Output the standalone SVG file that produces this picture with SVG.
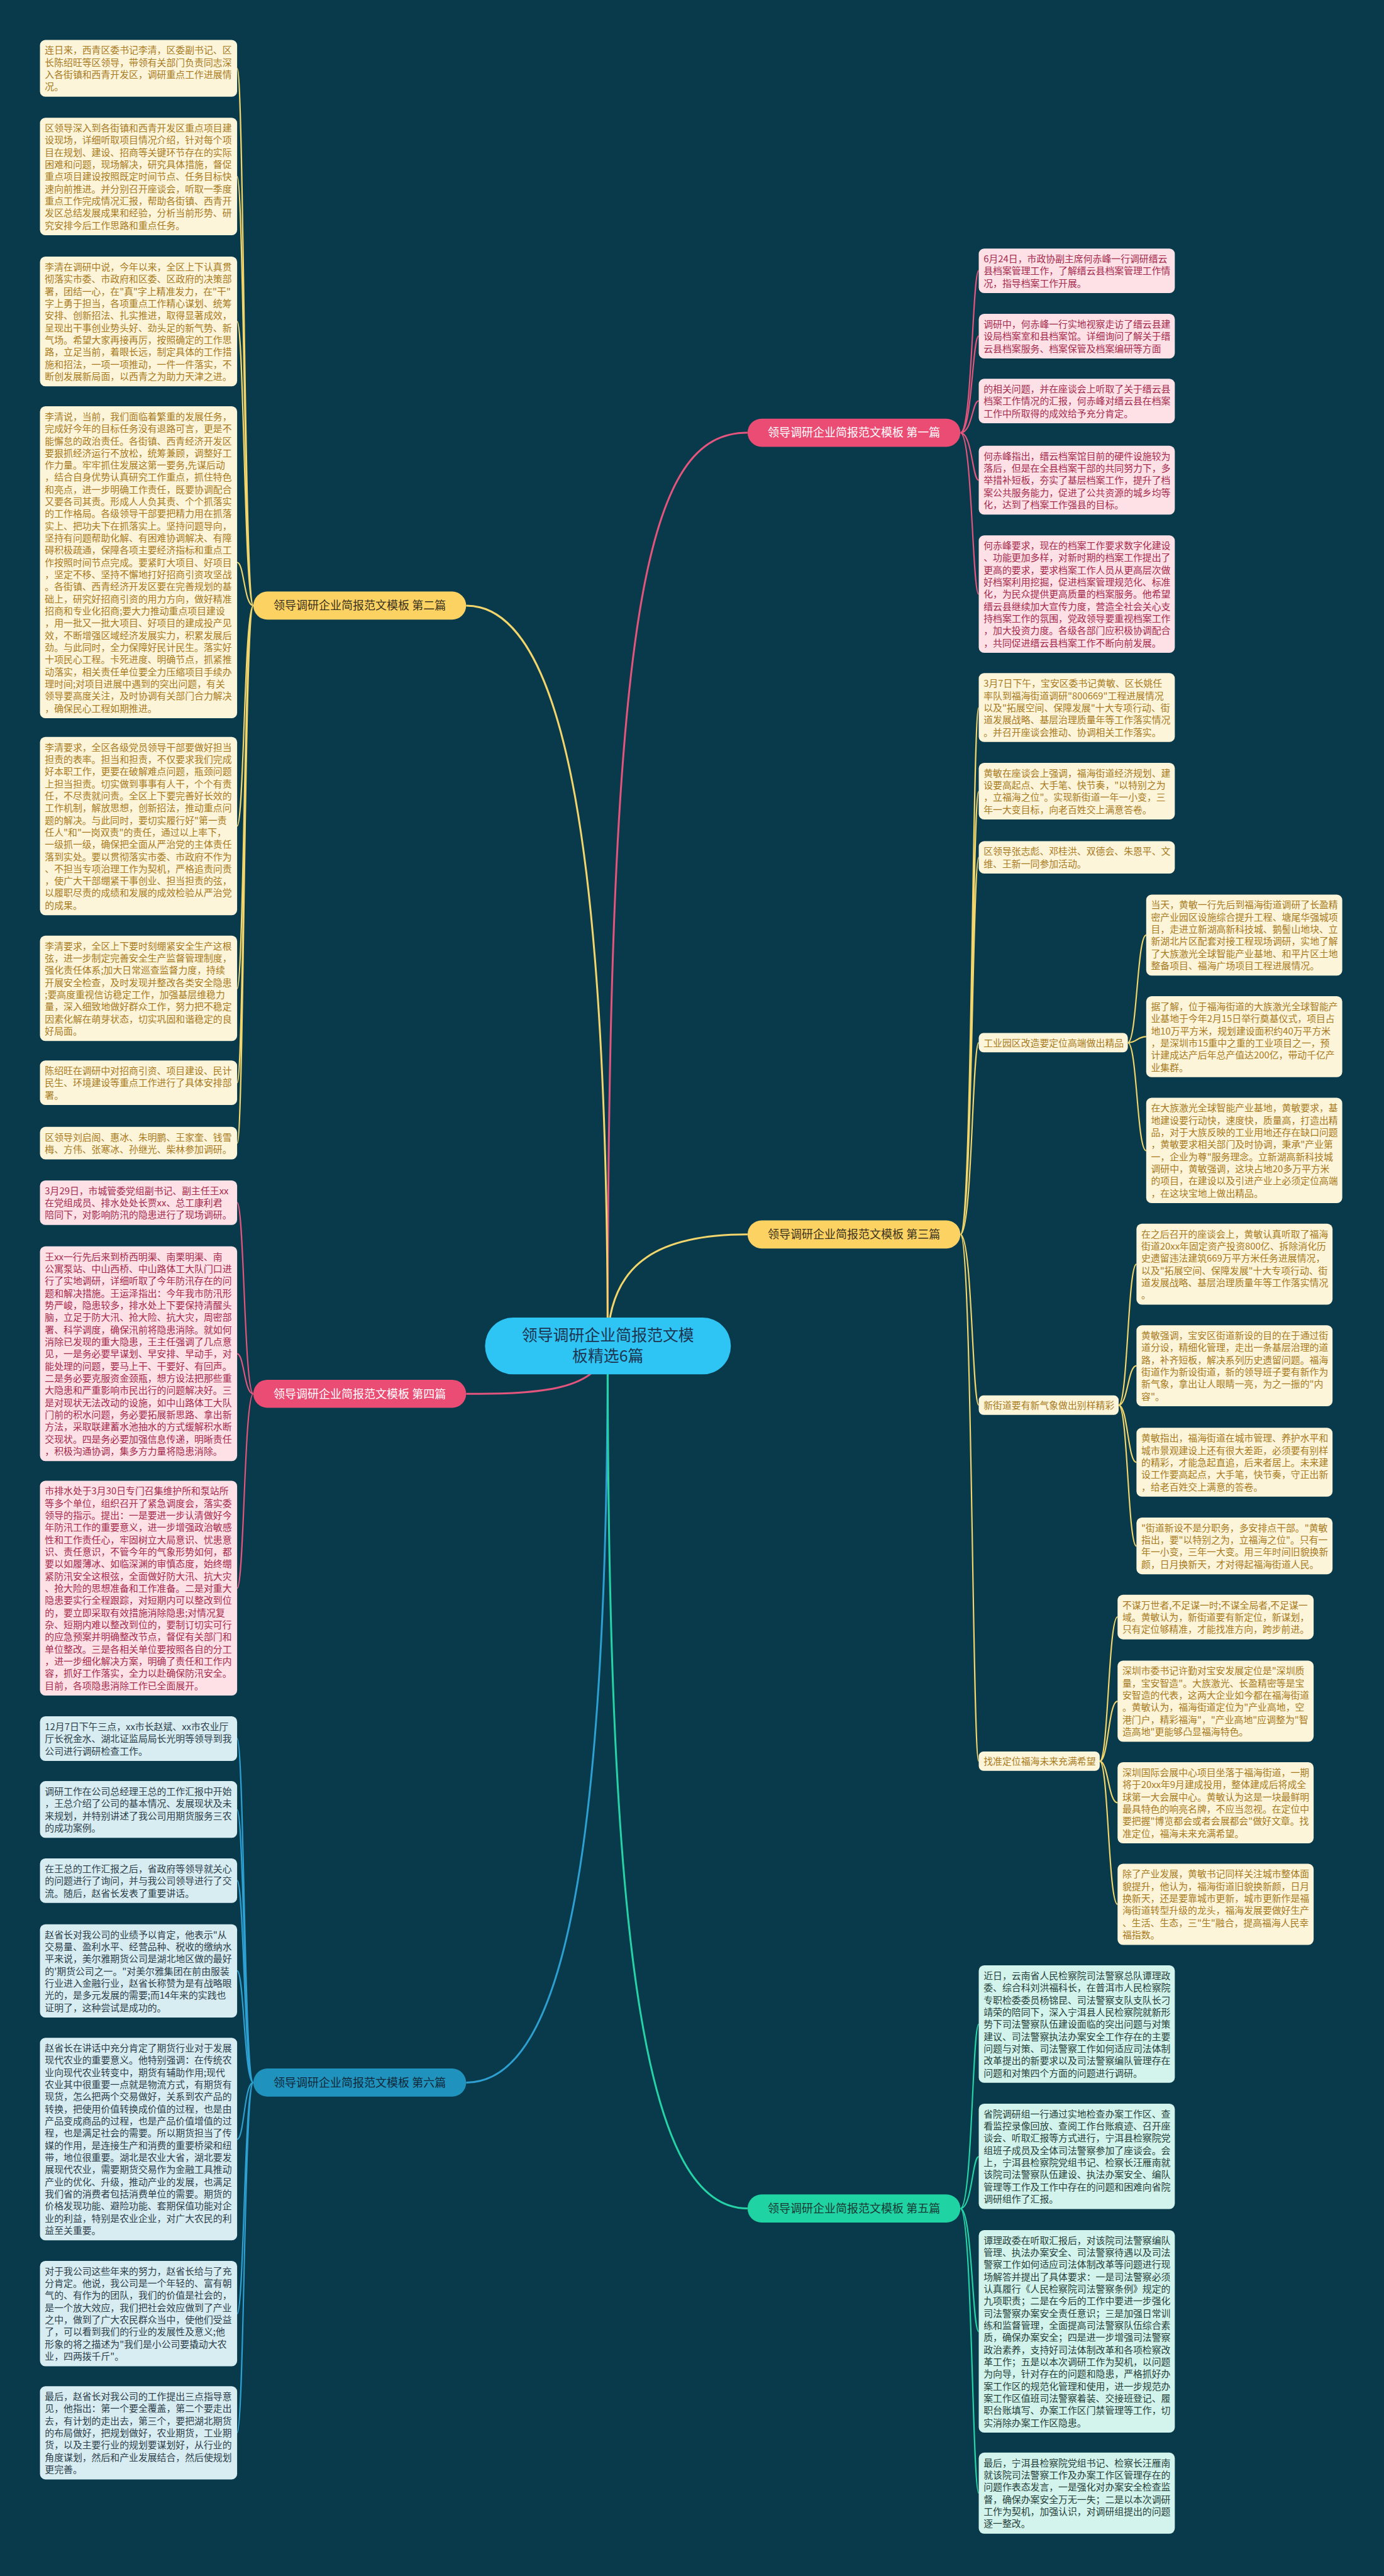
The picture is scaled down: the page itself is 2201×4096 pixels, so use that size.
<svg xmlns="http://www.w3.org/2000/svg" width="2201" height="4096" viewBox="0 0 2201 4096">
<style>
text{font-family:"Noto Sans CJK SC","Noto Sans",sans-serif;font-size:17.3px}
.ty{fill:#a87a1e}.tp{fill:#a52a4c}.tb{fill:#2c3e4a}.tg{fill:#25403a}
.by{fill:#fdf5da}.bp{fill:#fde1e7}.bb{fill:#d8edf2}.bg{fill:#d3f4ec}
#conn path{fill:none;stroke-width:2.5}
#conn .m{stroke-width:3.5}
.cy{stroke:#f2d56b}.cp{stroke:#e4557d}.cb{stroke:#2d9fd0}.cg{stroke:#26d3a6}
.nt{font-size:21px;text-anchor:middle}
</style>
<rect width="2201" height="4096" fill="#083a4b"/>
<g transform="scale(0.859)">
<g id="conn">
<path class="cp m" d="M1125 2491C1125 1100 1200 801 1384 801"/>
<path class="cy m" d="M1125 2491C1125 1600 1050 1121 863 1121"/>
<path class="cy m" d="M1125 2491C1125 2330 1230 2285 1384 2285"/>
<path class="cp m" d="M1125 2491C1110 2575 1000 2580 863 2580"/>
<path class="cb m" d="M1125 2491C1125 3400 1050 3855 863 3855"/>
<path class="cg m" d="M1125 2491C1125 3650 1200 4088 1384 4088"/>
<path class="cp" d="M1778 801C1800 801 1800 501 1812 501M1778 801C1800 801 1800 622 1812 622M1778 801C1800 801 1800 742 1812 742M1778 801C1800 801 1800 889 1812 889M1778 801C1800 801 1800 1100 1812 1100"/>
<path class="cy" d="M469 1121C452 1121 452 127 439 127M469 1121C452 1121 452 327 439 327M469 1121C452 1121 452 595 439 595M469 1121C452 1121 452 1041 439 1041M469 1121C452 1121 452 1529 439 1529M469 1121C452 1121 452 1830 439 1830M469 1121C452 1121 452 2004 439 2004M469 1121C452 1121 452 2116 439 2116"/>
<path class="cy" d="M1778 2285C1800 2285 1800 1310 1812 1310M1778 2285C1800 2285 1800 1465 1812 1465M1778 2285C1800 2285 1800 1587 1812 1587M1778 2285C1800 2285 1800 1930 1812 1930M1778 2285C1800 2285 1800 2601 1812 2601M1778 2285C1800 2285 1800 3260 1812 3260"/>
<path class="cy" d="M2088 1930C2105 1930 2105 1731 2122 1731M2088 1930C2105 1930 2105 1919 2122 1919M2088 1930C2105 1930 2105 2130 2122 2130"/>
<path class="cy" d="M2071 2601C2088 2601 2088 2340 2104 2340M2071 2601C2088 2601 2088 2528 2104 2528M2071 2601C2088 2601 2088 2707 2104 2707M2071 2601C2088 2601 2088 2862 2104 2862"/>
<path class="cy" d="M2036 3260C2052 3260 2052 2993 2069 2993M2036 3260C2052 3260 2052 3149 2069 3149M2036 3260C2052 3260 2052 3337 2069 3337M2036 3260C2052 3260 2052 3525 2069 3525"/>
<path class="cp" d="M469 2580C452 2580 452 2226 439 2226M469 2580C452 2580 452 2506 439 2506M469 2580C452 2580 452 2940 439 2940"/>
<path class="cb" d="M469 3855C452 3855 452 3218 439 3218M469 3855C452 3855 452 3350 439 3350M469 3855C452 3855 452 3481 439 3481M469 3855C452 3855 452 3648 439 3648M469 3855C452 3855 452 3960 439 3960M469 3855C452 3855 452 4283 439 4283M469 3855C452 3855 452 4503 439 4503"/>
<path class="cg" d="M1778 4088C1800 4088 1800 3747 1812 3747M1778 4088C1800 4088 1800 3992 1812 3992M1778 4088C1800 4088 1800 4316 1812 4316M1778 4088C1800 4088 1800 4615 1812 4615"/>
</g>

<g id="center"><rect x="898" y="2439" width="455" height="105" rx="52" fill="#2ec5f5"/><text x="1125.5" y="2482" text-anchor="middle" style="font-size:29px" fill="#1d3550"><tspan x="1125.5">领导调研企业简报范文模</tspan><tspan x="1125.5" dy="38">板精选6篇</tspan></text></g>

<g id="b1"><rect x="1384" y="775" width="394" height="52" rx="26" fill="#ea4c74"/><text class="nt" x="1581" y="808.5" fill="#ffffff">领导调研企业简报范文模板 第一篇</text></g>
<g id="b2"><rect x="469" y="1095" width="394" height="52" rx="26" fill="#fcd262"/><text class="nt" x="666" y="1128.5" fill="#3a3220">领导调研企业简报范文模板 第二篇</text></g>
<g id="b3"><rect x="1384" y="2259" width="394" height="52" rx="26" fill="#fcd262"/><text class="nt" x="1581" y="2292.5" fill="#3a3220">领导调研企业简报范文模板 第三篇</text></g>
<g id="b4"><rect x="469" y="2554" width="394" height="52" rx="26" fill="#ea4c74"/><text class="nt" x="666" y="2587.5" fill="#ffffff">领导调研企业简报范文模板 第四篇</text></g>
<g id="b5"><rect x="1384" y="4062" width="394" height="52" rx="26" fill="#20d3a2"/><text class="nt" x="1581" y="4095.5" fill="#173a35">领导调研企业简报范文模板 第五篇</text></g>
<g id="b6"><rect x="469" y="3829" width="394" height="52" rx="26" fill="#1f93bd"/><text class="nt" x="666" y="3862.5" fill="#10283a">领导调研企业简报范文模板 第六篇</text></g>

<g id="R1"><rect class="bp" x="1812" y="460" width="363" height="82.5" rx="10"/><text class="tp" x="1821" y="485.5"><tspan x="1821">6月24日，市政协副主席何赤峰一行调研缙云</tspan><tspan x="1821" dy="22.5">县档案管理工作，了解缙云县档案管理工作情</tspan><tspan x="1821" dy="22.5">况，指导档案工作开展。</tspan></text></g>
<g id="R2"><rect class="bp" x="1812" y="581" width="363" height="82.5" rx="10"/><text class="tp" x="1821" y="606.5"><tspan x="1821">调研中，何赤峰一行实地视察走访了缙云县建</tspan><tspan x="1821" dy="22.5">设局档案室和县档案馆。详细询问了解关于缙</tspan><tspan x="1821" dy="22.5">云县档案服务、档案保管及档案编研等方面</tspan></text></g>
<g id="R3"><rect class="bp" x="1812" y="701" width="363" height="82.5" rx="10"/><text class="tp" x="1821" y="726.5"><tspan x="1821">的相关问题，并在座谈会上听取了关于缙云县</tspan><tspan x="1821" dy="22.5">档案工作情况的汇报，何赤峰对缙云县在档案</tspan><tspan x="1821" dy="22.5">工作中所取得的成效给予充分肯定。</tspan></text></g>
<g id="R4"><rect class="bp" x="1812" y="825" width="363" height="127.5" rx="10"/><text class="tp" x="1821" y="850.5"><tspan x="1821">何赤峰指出，缙云档案馆目前的硬件设施较为</tspan><tspan x="1821" dy="22.5">落后，但是在全县档案干部的共同努力下，多</tspan><tspan x="1821" dy="22.5">举措补短板，夯实了基层档案工作，提升了档</tspan><tspan x="1821" dy="22.5">案公共服务能力，促进了公共资源的城乡均等</tspan><tspan x="1821" dy="22.5">化，达到了档案工作强县的目标。</tspan></text></g>
<g id="R5"><rect class="bp" x="1812" y="991" width="363" height="217.5" rx="10"/><text class="tp" x="1821" y="1016.5"><tspan x="1821">何赤峰要求，现在的档案工作要求数字化建设</tspan><tspan x="1821" dy="22.5">、功能更加多样，对新时期的档案工作提出了</tspan><tspan x="1821" dy="22.5">更高的要求，要求档案工作人员从更高层次做</tspan><tspan x="1821" dy="22.5">好档案利用挖掘，促进档案管理规范化、标准</tspan><tspan x="1821" dy="22.5">化，为民众提供更高质量的档案服务。他希望</tspan><tspan x="1821" dy="22.5">缙云县继续加大宣传力度，营造全社会关心支</tspan><tspan x="1821" dy="22.5">持档案工作的氛围，党政领导要重视档案工作</tspan><tspan x="1821" dy="22.5">，加大投资力度。各级各部门应积极协调配合</tspan><tspan x="1821" dy="22.5">，共同促进缙云县档案工作不断向前发展。</tspan></text></g>

<g id="L1"><rect class="by" x="74" y="74" width="365" height="105" rx="10"/><text class="ty" x="83" y="99.5"><tspan x="83">连日来，西青区委书记李清，区委副书记、区</tspan><tspan x="83" dy="22.5">长陈绍旺等区领导，带领有关部门负责同志深</tspan><tspan x="83" dy="22.5">入各街镇和西青开发区，调研重点工作进展情</tspan><tspan x="83" dy="22.5">况。</tspan></text></g>
<g id="L2"><rect class="by" x="74" y="218" width="365" height="217.5" rx="10"/><text class="ty" x="83" y="243.5"><tspan x="83">区领导深入到各街镇和西青开发区重点项目建</tspan><tspan x="83" dy="22.5">设现场，详细听取项目情况介绍，针对每个项</tspan><tspan x="83" dy="22.5">目在规划、建设、招商等关键环节存在的实际</tspan><tspan x="83" dy="22.5">困难和问题，现场解决，研究具体措施，督促</tspan><tspan x="83" dy="22.5">重点项目建设按照既定时间节点、任务目标快</tspan><tspan x="83" dy="22.5">速向前推进。并分别召开座谈会，听取一季度</tspan><tspan x="83" dy="22.5">重点工作完成情况汇报，帮助各街镇、西青开</tspan><tspan x="83" dy="22.5">发区总结发展成果和经验，分析当前形势、研</tspan><tspan x="83" dy="22.5">究安排今后工作思路和重点任务。</tspan></text></g>
<g id="L3"><rect class="by" x="74" y="475" width="365" height="240" rx="10"/><text class="ty" x="83" y="500.5"><tspan x="83">李清在调研中说，今年以来，全区上下认真贯</tspan><tspan x="83" dy="22.5">彻落实市委、市政府和区委、区政府的决策部</tspan><tspan x="83" dy="22.5">署，团结一心，在"真"字上精准发力，在"干"</tspan><tspan x="83" dy="22.5">字上勇于担当，各项重点工作精心谋划、统筹</tspan><tspan x="83" dy="22.5">安排、创新招法、扎实推进，取得显著成效，</tspan><tspan x="83" dy="22.5">呈现出干事创业势头好、劲头足的新气势、新</tspan><tspan x="83" dy="22.5">气场。希望大家再接再厉，按照确定的工作思</tspan><tspan x="83" dy="22.5">路，立足当前，着眼长远，制定具体的工作措</tspan><tspan x="83" dy="22.5">施和招法，一项一项推动，一件一件落实，不</tspan><tspan x="83" dy="22.5">断创发展新局面，以西青之为助力天津之进。</tspan></text></g>
<g id="L4"><rect class="by" x="74" y="752" width="365" height="577.5" rx="10"/><text class="ty" x="83" y="777.5"><tspan x="83">李清说，当前，我们面临着繁重的发展任务，</tspan><tspan x="83" dy="22.5">完成好今年的目标任务没有退路可言，更是不</tspan><tspan x="83" dy="22.5">能懈怠的政治责任。各街镇、西青经济开发区</tspan><tspan x="83" dy="22.5">要狠抓经济运行不放松，统筹兼顾，调整好工</tspan><tspan x="83" dy="22.5">作力量。牢牢抓住发展这第一要务,先谋后动</tspan><tspan x="83" dy="22.5">，结合自身优势认真研究工作重点，抓住特色</tspan><tspan x="83" dy="22.5">和亮点，进一步明确工作责任，既要协调配合</tspan><tspan x="83" dy="22.5">又要各司其责。形成人人负其责、个个抓落实</tspan><tspan x="83" dy="22.5">的工作格局。各级领导干部要把精力用在抓落</tspan><tspan x="83" dy="22.5">实上、把功夫下在抓落实上。坚持问题导向，</tspan><tspan x="83" dy="22.5">坚持有问题帮助化解、有困难协调解决、有障</tspan><tspan x="83" dy="22.5">碍积极疏通，保障各项主要经济指标和重点工</tspan><tspan x="83" dy="22.5">作按照时间节点完成。要紧盯大项目、好项目</tspan><tspan x="83" dy="22.5">，坚定不移、坚持不懈地打好招商引资攻坚战</tspan><tspan x="83" dy="22.5">。各街镇、西青经济开发区要在完善规划的基</tspan><tspan x="83" dy="22.5">础上，研究好招商引资的用力方向，做好精准</tspan><tspan x="83" dy="22.5">招商和专业化招商;要大力推动重点项目建设</tspan><tspan x="83" dy="22.5">，用一批又一批大项目、好项目的建成投产见</tspan><tspan x="83" dy="22.5">效，不断增强区域经济发展实力，积累发展后</tspan><tspan x="83" dy="22.5">劲。与此同时，全力保障好民计民生。落实好</tspan><tspan x="83" dy="22.5">十项民心工程。卡死进度、明确节点，抓紧推</tspan><tspan x="83" dy="22.5">动落实，相关责任单位要全力压缩项目手续办</tspan><tspan x="83" dy="22.5">理时间;对项目进展中遇到的突出问题，有关</tspan><tspan x="83" dy="22.5">领导要高度关注，及时协调有关部门合力解决</tspan><tspan x="83" dy="22.5">，确保民心工程如期推进。</tspan></text></g>
<g id="L5"><rect class="by" x="74" y="1364" width="365" height="330" rx="10"/><text class="ty" x="83" y="1389.5"><tspan x="83">李清要求，全区各级党员领导干部要做好担当</tspan><tspan x="83" dy="22.5">担责的表率。担当和担责，不仅要求我们完成</tspan><tspan x="83" dy="22.5">好本职工作，更要在破解难点问题，瓶颈问题</tspan><tspan x="83" dy="22.5">上担当担责。切实做到事事有人干，个个有责</tspan><tspan x="83" dy="22.5">任，不尽责就问责。全区上下要完善好长效的</tspan><tspan x="83" dy="22.5">工作机制，解放思想，创新招法，推动重点问</tspan><tspan x="83" dy="22.5">题的解决。与此同时，要切实履行好"第一责</tspan><tspan x="83" dy="22.5">任人"和"一岗双责"的责任，通过以上率下，</tspan><tspan x="83" dy="22.5">一级抓一级，确保把全面从严治党的主体责任</tspan><tspan x="83" dy="22.5">落到实处。要以贯彻落实市委、市政府不作为</tspan><tspan x="83" dy="22.5">、不担当专项治理工作为契机，严格追责问责</tspan><tspan x="83" dy="22.5">，使广大干部绷紧干事创业、担当担责的弦，</tspan><tspan x="83" dy="22.5">以履职尽责的成绩和发展的成效检验从严治党</tspan><tspan x="83" dy="22.5">的成果。</tspan></text></g>
<g id="L6"><rect class="by" x="74" y="1732" width="365" height="195" rx="10"/><text class="ty" x="83" y="1757.5"><tspan x="83">李清要求，全区上下要时刻绷紧安全生产这根</tspan><tspan x="83" dy="22.5">弦，进一步制定完善安全生产监督管理制度，</tspan><tspan x="83" dy="22.5">强化责任体系;加大日常巡查监督力度，持续</tspan><tspan x="83" dy="22.5">开展安全检查，及时发现并整改各类安全隐患</tspan><tspan x="83" dy="22.5">;要高度重视信访稳定工作，加强基层维稳力</tspan><tspan x="83" dy="22.5">量，深入细致地做好群众工作，努力把不稳定</tspan><tspan x="83" dy="22.5">因素化解在萌芽状态，切实巩固和谐稳定的良</tspan><tspan x="83" dy="22.5">好局面。</tspan></text></g>
<g id="L7"><rect class="by" x="74" y="1963" width="365" height="82.5" rx="10"/><text class="ty" x="83" y="1988.5"><tspan x="83">陈绍旺在调研中对招商引资、项目建设、民计</tspan><tspan x="83" dy="22.5">民生、环境建设等重点工作进行了具体安排部</tspan><tspan x="83" dy="22.5">署。</tspan></text></g>
<g id="L8"><rect class="by" x="74" y="2086" width="365" height="60" rx="10"/><text class="ty" x="83" y="2111.5"><tspan x="83">区领导刘启阁、惠冰、朱明鹏、王家奎、钱雪</tspan><tspan x="83" dy="22.5">梅、方伟、张寒冰、孙继光、柴林参加调研。</tspan></text></g>

<g id="P1"><rect class="bp" x="74" y="2185" width="365" height="82.5" rx="10"/><text class="tp" x="83" y="2210.5"><tspan x="83">3月29日，市城管委党组副书记、副主任王xx</tspan><tspan x="83" dy="22.5">在党组成员、排水处处长贾xx、总工康利君</tspan><tspan x="83" dy="22.5">陪同下，对影响防汛的隐患进行了现场调研。</tspan></text></g>
<g id="P2"><rect class="bp" x="74" y="2307" width="365" height="397.5" rx="10"/><text class="tp" x="83" y="2332.5"><tspan x="83">王xx一行先后来到桥西明渠、南栗明渠、南</tspan><tspan x="83" dy="22.5">公寓泵站、中山西桥、中山路体工大队门口进</tspan><tspan x="83" dy="22.5">行了实地调研，详细听取了今年防汛存在的问</tspan><tspan x="83" dy="22.5">题和解决措施。王运泽指出：今年我市防汛形</tspan><tspan x="83" dy="22.5">势严峻，隐患较多，排水处上下要保持清醒头</tspan><tspan x="83" dy="22.5">脑，立足于防大汛、抢大险、抗大灾，周密部</tspan><tspan x="83" dy="22.5">署、科学调度，确保汛前将隐患消除。就如何</tspan><tspan x="83" dy="22.5">消除已发现的重大隐患，王主任强调了几点意</tspan><tspan x="83" dy="22.5">见，一是务必要早谋划、早安排、早动手，对</tspan><tspan x="83" dy="22.5">能处理的问题，要马上干、干要好、有回声。</tspan><tspan x="83" dy="22.5">二是务必要克服资金颈瓶，想方设法把那些重</tspan><tspan x="83" dy="22.5">大隐患和严重影响市民出行的问题解决好。三</tspan><tspan x="83" dy="22.5">是对现状无法改动的设施，如中山路体工大队</tspan><tspan x="83" dy="22.5">门前的积水问题，务必要拓展新思路、拿出新</tspan><tspan x="83" dy="22.5">方法，采取联建蓄水池抽水的方式缓解积水断</tspan><tspan x="83" dy="22.5">交现状。四是务必要加强信息传递，明晰责任</tspan><tspan x="83" dy="22.5">，积极沟通协调，集多方力量将隐患消除。</tspan></text></g>
<g id="P3"><rect class="bp" x="74" y="2741" width="365" height="397.5" rx="10"/><text class="tp" x="83" y="2766.5"><tspan x="83">市排水处于3月30日专门召集维护所和泵站所</tspan><tspan x="83" dy="22.5">等多个单位，组织召开了紧急调度会，落实委</tspan><tspan x="83" dy="22.5">领导的指示。提出：一是要进一步认清做好今</tspan><tspan x="83" dy="22.5">年防汛工作的重要意义，进一步增强政治敏感</tspan><tspan x="83" dy="22.5">性和工作责任心，牢固树立大局意识、忧患意</tspan><tspan x="83" dy="22.5">识、责任意识，不管今年的气象形势如何，都</tspan><tspan x="83" dy="22.5">要以如履薄冰、如临深渊的审慎态度，始终绷</tspan><tspan x="83" dy="22.5">紧防汛安全这根弦，全面做好防大汛、抗大灾</tspan><tspan x="83" dy="22.5">、抢大险的思想准备和工作准备。二是对重大</tspan><tspan x="83" dy="22.5">隐患要实行全程跟踪，对短期内可以整改到位</tspan><tspan x="83" dy="22.5">的，要立即采取有效措施消除隐患;对情况复</tspan><tspan x="83" dy="22.5">杂、短期内难以整改到位的，要制订切实可行</tspan><tspan x="83" dy="22.5">的应急预案并明确整改节点，督促有关部门和</tspan><tspan x="83" dy="22.5">单位整改。三是各相关单位要按照各自的分工</tspan><tspan x="83" dy="22.5">，进一步细化解决方案，明确了责任和工作内</tspan><tspan x="83" dy="22.5">容，抓好工作落实，全力以赴确保防汛安全。</tspan><tspan x="83" dy="22.5">目前，各项隐患消除工作已全面展开。</tspan></text></g>

<g id="B1"><rect class="bb" x="74" y="3177" width="365" height="82.5" rx="10"/><text class="tb" x="83" y="3202.5"><tspan x="83">12月7日下午三点，xx市长赵斌、xx市农业厅</tspan><tspan x="83" dy="22.5">厅长祝金水、湖北证监局局长光明等领导到我</tspan><tspan x="83" dy="22.5">公司进行调研检查工作。</tspan></text></g>
<g id="B2"><rect class="bb" x="74" y="3297" width="365" height="105" rx="10"/><text class="tb" x="83" y="3322.5"><tspan x="83">调研工作在公司总经理王总的工作汇报中开始</tspan><tspan x="83" dy="22.5">，王总介绍了公司的基本情况、发展现状及未</tspan><tspan x="83" dy="22.5">来规划，并特别讲述了我公司用期货服务三农</tspan><tspan x="83" dy="22.5">的成功案例。</tspan></text></g>
<g id="B3"><rect class="bb" x="74" y="3440" width="365" height="82.5" rx="10"/><text class="tb" x="83" y="3465.5"><tspan x="83">在王总的工作汇报之后，省政府等领导就关心</tspan><tspan x="83" dy="22.5">的问题进行了询问，并与我公司领导进行了交</tspan><tspan x="83" dy="22.5">流。随后，赵省长发表了重要讲话。</tspan></text></g>
<g id="B4"><rect class="bb" x="74" y="3562" width="365" height="172.5" rx="10"/><text class="tb" x="83" y="3587.5"><tspan x="83">赵省长对我公司的业绩予以肯定，他表示"从</tspan><tspan x="83" dy="22.5">交易量、盈利水平、经营品种、税收的缴纳水</tspan><tspan x="83" dy="22.5">平来说，美尔雅期货公司是湖北地区做的最好</tspan><tspan x="83" dy="22.5">的'期货公司之一。"对美尔雅集团在前由服装</tspan><tspan x="83" dy="22.5">行业进入金融行业，赵省长称赞为是有战略眼</tspan><tspan x="83" dy="22.5">光的，是多元发展的需要;而14年来的实践也</tspan><tspan x="83" dy="22.5">证明了，这种尝试是成功的。</tspan></text></g>
<g id="B5"><rect class="bb" x="74" y="3772" width="365" height="375" rx="10"/><text class="tb" x="83" y="3797.5"><tspan x="83">赵省长在讲话中充分肯定了期货行业对于发展</tspan><tspan x="83" dy="22.5">现代农业的重要意义。他特别强调：在传统农</tspan><tspan x="83" dy="22.5">业向现代农业转变中，期货有辅助作用;现代</tspan><tspan x="83" dy="22.5">农业其中很重要一点就是物流方式，有期货有</tspan><tspan x="83" dy="22.5">现货，怎么把两个交易做好，关系到农产品的</tspan><tspan x="83" dy="22.5">转换，把使用价值转换成价值的过程，也是由</tspan><tspan x="83" dy="22.5">产品变成商品的过程，也是产品价值增值的过</tspan><tspan x="83" dy="22.5">程，也是满足社会的需要。所以期货担当了传</tspan><tspan x="83" dy="22.5">媒的作用，是连接生产和消费的重要桥梁和纽</tspan><tspan x="83" dy="22.5">带，地位很重要。湖北是农业大省，湖北要发</tspan><tspan x="83" dy="22.5">展现代农业，需要期货交易作为金融工具推动</tspan><tspan x="83" dy="22.5">产业的优化、升级，推动产业的发展，也满足</tspan><tspan x="83" dy="22.5">我们省的消费者包括消费单位的需要。期货的</tspan><tspan x="83" dy="22.5">价格发现功能、避险功能、套期保值功能对企</tspan><tspan x="83" dy="22.5">业的利益，特别是农业企业，对广大农民的利</tspan><tspan x="83" dy="22.5">益至关重要。</tspan></text></g>
<g id="B6"><rect class="bb" x="74" y="4185" width="365" height="195" rx="10"/><text class="tb" x="83" y="4210.5"><tspan x="83">对于我公司这些年来的努力，赵省长给与了充</tspan><tspan x="83" dy="22.5">分肯定。他说，我公司是一个年轻的、富有朝</tspan><tspan x="83" dy="22.5">气的、有作为的团队，我们的价值是社会的，</tspan><tspan x="83" dy="22.5">是一个放大效应，我们把社会效应做到了产业</tspan><tspan x="83" dy="22.5">之中，做到了广大农民群众当中，使他们受益</tspan><tspan x="83" dy="22.5">了，可以看到我们的行业的发展性及意义;他</tspan><tspan x="83" dy="22.5">形象的将之描述为"我们是小公司要撬动大农</tspan><tspan x="83" dy="22.5">业，四两拨千斤"。</tspan></text></g>
<g id="B7"><rect class="bb" x="74" y="4417" width="365" height="172.5" rx="10"/><text class="tb" x="83" y="4442.5"><tspan x="83">最后，赵省长对我公司的工作提出三点指导意</tspan><tspan x="83" dy="22.5">见，他指出：第一个要全覆盖，第二个要走出</tspan><tspan x="83" dy="22.5">去，有计划的走出去，第三个，要把湖北期货</tspan><tspan x="83" dy="22.5">的布局做好，把规划做好，农业期货，工业期</tspan><tspan x="83" dy="22.5">货，以及主要行业的规划要谋划好，从行业的</tspan><tspan x="83" dy="22.5">角度谋划，然后和产业发展结合，然后使规划</tspan><tspan x="83" dy="22.5">更完善。</tspan></text></g>

<g id="Y1"><rect class="by" x="1812" y="1246" width="363" height="127.5" rx="10"/><text class="ty" x="1821" y="1271.5"><tspan x="1821">3月7日下午，宝安区委书记黄敏、区长姚任</tspan><tspan x="1821" dy="22.5">率队到福海街道调研"800669"工程进展情况</tspan><tspan x="1821" dy="22.5">以及"拓展空间、保障发展"十大专项行动、街</tspan><tspan x="1821" dy="22.5">道发展战略、基层治理质量年等工作落实情况</tspan><tspan x="1821" dy="22.5">。并召开座谈会推动、协调相关工作落实。</tspan></text></g>
<g id="Y2"><rect class="by" x="1812" y="1412" width="363" height="105" rx="10"/><text class="ty" x="1821" y="1437.5"><tspan x="1821">黄敏在座谈会上强调，福海街道经济规划、建</tspan><tspan x="1821" dy="22.5">设要高起点、大手笔、快节奏，"以特别之为</tspan><tspan x="1821" dy="22.5">，立福海之位"。实现新街道一年一小变，三</tspan><tspan x="1821" dy="22.5">年一大变目标，向老百姓交上满意答卷。</tspan></text></g>
<g id="Y3"><rect class="by" x="1812" y="1557" width="363" height="60" rx="10"/><text class="ty" x="1821" y="1582.5"><tspan x="1821">区领导张志彪、邓桂洪、双德会、朱恩平、文</tspan><tspan x="1821" dy="22.5">维、王新一同参加活动。</tspan></text></g>

<g id="M1"><rect class="by" x="1812" y="1912" width="276" height="36" rx="9"/><text class="ty" x="1821" y="1936.6">工业园区改造要定位高端做出精品</text></g>
<g id="M2"><rect class="by" x="1812" y="2583" width="259" height="36" rx="9"/><text class="ty" x="1821" y="2607.6">新街道要有新气象做出别样精彩</text></g>
<g id="M3"><rect class="by" x="1812" y="3242" width="224" height="36" rx="9"/><text class="ty" x="1821" y="3266.6">找准定位福海未来充满希望</text></g>

<g id="C11"><rect class="by" x="2122" y="1656" width="363" height="150" rx="10"/><text class="ty" x="2131" y="1681.5"><tspan x="2131">当天，黄敏一行先后到福海街道调研了长盈精</tspan><tspan x="2131" dy="22.5">密产业园区设施综合提升工程、塘尾华强城项</tspan><tspan x="2131" dy="22.5">目，走进立新湖高新科技城、鹅髻山地块、立</tspan><tspan x="2131" dy="22.5">新湖北片区配套对接工程现场调研，实地了解</tspan><tspan x="2131" dy="22.5">了大族激光全球智能产业基地、和平片区土地</tspan><tspan x="2131" dy="22.5">整备项目、福海广场项目工程进展情况。</tspan></text></g>
<g id="C12"><rect class="by" x="2122" y="1844" width="363" height="150" rx="10"/><text class="ty" x="2131" y="1869.5"><tspan x="2131">据了解，位于福海街道的大族激光全球智能产</tspan><tspan x="2131" dy="22.5">业基地于今年2月15日举行奠基仪式，项目占</tspan><tspan x="2131" dy="22.5">地10万平方米，规划建设面积约40万平方米</tspan><tspan x="2131" dy="22.5">，是深圳市15重中之重的工业项目之一，预</tspan><tspan x="2131" dy="22.5">计建成达产后年总产值达200亿，带动千亿产</tspan><tspan x="2131" dy="22.5">业集群。</tspan></text></g>
<g id="C13"><rect class="by" x="2122" y="2032" width="363" height="195" rx="10"/><text class="ty" x="2131" y="2057.5"><tspan x="2131">在大族激光全球智能产业基地，黄敏要求，基</tspan><tspan x="2131" dy="22.5">地建设要行动快，速度快，质量高，打造出精</tspan><tspan x="2131" dy="22.5">品，对于大族反映的工业用地还存在缺口问题</tspan><tspan x="2131" dy="22.5">，黄敏要求相关部门及时协调，秉承"产业第</tspan><tspan x="2131" dy="22.5">一，企业为尊"服务理念。立新湖高新科技城</tspan><tspan x="2131" dy="22.5">调研中，黄敏强调，这块占地20多万平方米</tspan><tspan x="2131" dy="22.5">的项目，在建设以及引进产业上必须定位高端</tspan><tspan x="2131" dy="22.5">，在这块宝地上做出精品。</tspan></text></g>

<g id="C21"><rect class="by" x="2104" y="2265" width="363" height="150" rx="10"/><text class="ty" x="2113" y="2290.5"><tspan x="2113">在之后召开的座谈会上，黄敏认真听取了福海</tspan><tspan x="2113" dy="22.5">街道20xx年固定资产投资800亿、拆除消化历</tspan><tspan x="2113" dy="22.5">史遗留违法建筑669万平方米任务进展情况，</tspan><tspan x="2113" dy="22.5">以及"拓展空间、保障发展"十大专项行动、街</tspan><tspan x="2113" dy="22.5">道发展战略、基层治理质量年等工作落实情况</tspan><tspan x="2113" dy="22.5">。</tspan></text></g>
<g id="C22"><rect class="by" x="2104" y="2453" width="363" height="150" rx="10"/><text class="ty" x="2113" y="2478.5"><tspan x="2113">黄敏强调，宝安区街道新设的目的在于通过街</tspan><tspan x="2113" dy="22.5">道分设，精细化管理，走出一条基层治理的道</tspan><tspan x="2113" dy="22.5">路，补齐短板，解决系列历史遗留问题。福海</tspan><tspan x="2113" dy="22.5">街道作为新设街道，新的领导班子要有新作为</tspan><tspan x="2113" dy="22.5">新气象，拿出让人眼睛一亮，为之一振的"内</tspan><tspan x="2113" dy="22.5">容"。</tspan></text></g>
<g id="C23"><rect class="by" x="2104" y="2643" width="363" height="127.5" rx="10"/><text class="ty" x="2113" y="2668.5"><tspan x="2113">黄敏指出，福海街道在城市管理、养护水平和</tspan><tspan x="2113" dy="22.5">城市景观建设上还有很大差距，必须要有别样</tspan><tspan x="2113" dy="22.5">的精彩，才能急起直追，后来者居上。未来建</tspan><tspan x="2113" dy="22.5">设工作要高起点，大手笔，快节奏，守正出新</tspan><tspan x="2113" dy="22.5">，给老百姓交上满意的答卷。</tspan></text></g>
<g id="C24"><rect class="by" x="2104" y="2809" width="363" height="105" rx="10"/><text class="ty" x="2113" y="2834.5"><tspan x="2113">"街道新设不是分职务，多安排点干部。"黄敏</tspan><tspan x="2113" dy="22.5">指出，要"以特别之为，立福海之位"。只有一</tspan><tspan x="2113" dy="22.5">年一小变，三年一大变。用三年时间旧貌换新</tspan><tspan x="2113" dy="22.5">颜，日月换新天，才对得起福海街道人民。</tspan></text></g>

<g id="C31"><rect class="by" x="2069" y="2952" width="363" height="82.5" rx="10"/><text class="ty" x="2078" y="2977.5"><tspan x="2078">不谋万世者,不足谋一时;不谋全局者,不足谋一</tspan><tspan x="2078" dy="22.5">域。黄敏认为，新街道要有新定位，新谋划，</tspan><tspan x="2078" dy="22.5">只有定位够精准，才能找准方向，跨步前进。</tspan></text></g>
<g id="C32"><rect class="by" x="2069" y="3074" width="363" height="150" rx="10"/><text class="ty" x="2078" y="3099.5"><tspan x="2078">深圳市委书记许勤对宝安发展定位是"深圳质</tspan><tspan x="2078" dy="22.5">量，宝安智造"。大族激光、长盈精密等是宝</tspan><tspan x="2078" dy="22.5">安智造的代表，这两大企业如今都在福海街道</tspan><tspan x="2078" dy="22.5">。黄敏认为，福海街道定位为"产业高地，空</tspan><tspan x="2078" dy="22.5">港门户，精彩福海"，"产业高地"应调整为"智</tspan><tspan x="2078" dy="22.5">造高地"更能够凸显福海特色。</tspan></text></g>
<g id="C33"><rect class="by" x="2069" y="3262" width="363" height="150" rx="10"/><text class="ty" x="2078" y="3287.5"><tspan x="2078">深圳国际会展中心项目坐落于福海街道，一期</tspan><tspan x="2078" dy="22.5">将于20xx年9月建成投用，整体建成后将成全</tspan><tspan x="2078" dy="22.5">球第一大会展中心。黄敏认为这是一块最鲜明</tspan><tspan x="2078" dy="22.5">最具特色的响亮名牌，不应当忽视。在定位中</tspan><tspan x="2078" dy="22.5">要把握"博览都会或者会展都会"做好文章。找</tspan><tspan x="2078" dy="22.5">准定位，福海未来充满希望。</tspan></text></g>
<g id="C34"><rect class="by" x="2069" y="3450" width="363" height="150" rx="10"/><text class="ty" x="2078" y="3475.5"><tspan x="2078">除了产业发展，黄敏书记同样关注城市整体面</tspan><tspan x="2078" dy="22.5">貌提升，他认为，福海街道旧貌换新颜，日月</tspan><tspan x="2078" dy="22.5">换新天，还是要靠城市更新，城市更新作是福</tspan><tspan x="2078" dy="22.5">海街道转型升级的龙头，福海发展要做好生产</tspan><tspan x="2078" dy="22.5">、生活、生态，三"生"融合，提高福海人民幸</tspan><tspan x="2078" dy="22.5">福指数。</tspan></text></g>

<g id="G1"><rect class="bg" x="1812" y="3638" width="363" height="217.5" rx="10"/><text class="tg" x="1821" y="3663.5"><tspan x="1821">近日，云南省人民检察院司法警察总队谭理政</tspan><tspan x="1821" dy="22.5">委、综合科刘洪福科长，在普洱市人民检察院</tspan><tspan x="1821" dy="22.5">专职检委委员杨锦昆、司法警察支队支队长刁</tspan><tspan x="1821" dy="22.5">靖荣的陪同下，深入宁洱县人民检察院就新形</tspan><tspan x="1821" dy="22.5">势下司法警察队伍建设面临的突出问题与对策</tspan><tspan x="1821" dy="22.5">建议、司法警察执法办案安全工作存在的主要</tspan><tspan x="1821" dy="22.5">问题与对策、司法警察工作如何适应司法体制</tspan><tspan x="1821" dy="22.5">改革提出的新要求以及司法警察编队管理存在</tspan><tspan x="1821" dy="22.5">问题和对策四个方面的问题进行调研。</tspan></text></g>
<g id="G2"><rect class="bg" x="1812" y="3894" width="363" height="195" rx="10"/><text class="tg" x="1821" y="3919.5"><tspan x="1821">省院调研组一行通过实地检查办案工作区、查</tspan><tspan x="1821" dy="22.5">看监控录像回放、查阅工作台账痕迹、召开座</tspan><tspan x="1821" dy="22.5">谈会、听取汇报等方式进行，宁洱县检察院党</tspan><tspan x="1821" dy="22.5">组班子成员及全体司法警察参加了座谈会。会</tspan><tspan x="1821" dy="22.5">上，宁洱县检察院党组书记、检察长汪雁南就</tspan><tspan x="1821" dy="22.5">该院司法警察队伍建设、执法办案安全、编队</tspan><tspan x="1821" dy="22.5">管理等工作及工作中存在的问题和困难向省院</tspan><tspan x="1821" dy="22.5">调研组作了汇报。</tspan></text></g>
<g id="G3"><rect class="bg" x="1812" y="4128" width="363" height="375" rx="10"/><text class="tg" x="1821" y="4153.5"><tspan x="1821">谭理政委在听取汇报后，对该院司法警察编队</tspan><tspan x="1821" dy="22.5">管理、执法办案安全、司法警察待遇以及司法</tspan><tspan x="1821" dy="22.5">警察工作如何适应司法体制改革等问题进行现</tspan><tspan x="1821" dy="22.5">场解答并提出了具体要求：一是司法警察必须</tspan><tspan x="1821" dy="22.5">认真履行《人民检察院司法警察条例》规定的</tspan><tspan x="1821" dy="22.5">九项职责；二是在今后的工作中要进一步强化</tspan><tspan x="1821" dy="22.5">司法警察办案安全责任意识；三是加强日常训</tspan><tspan x="1821" dy="22.5">练和监督管理，全面提高司法警察队伍综合素</tspan><tspan x="1821" dy="22.5">质，确保办案安全；四是进一步增强司法警察</tspan><tspan x="1821" dy="22.5">政治素养，支持好司法体制改革和各项检察改</tspan><tspan x="1821" dy="22.5">革工作；五是以本次调研工作为契机，以问题</tspan><tspan x="1821" dy="22.5">为向导，针对存在的问题和隐患，严格抓好办</tspan><tspan x="1821" dy="22.5">案工作区的规范化管理和使用，进一步规范办</tspan><tspan x="1821" dy="22.5">案工作区值班司法警察着装、交接班登记、履</tspan><tspan x="1821" dy="22.5">职台账填写、办案工作区门禁管理等工作，切</tspan><tspan x="1821" dy="22.5">实消除办案工作区隐患。</tspan></text></g>
<g id="G4"><rect class="bg" x="1812" y="4540" width="363" height="150" rx="10"/><text class="tg" x="1821" y="4565.5"><tspan x="1821">最后，宁洱县检察院党组书记、检察长汪雁南</tspan><tspan x="1821" dy="22.5">就该院司法警察工作及办案工作区管理存在的</tspan><tspan x="1821" dy="22.5">问题作表态发言，一是强化对办案安全检查监</tspan><tspan x="1821" dy="22.5">督，确保办案安全万无一失；二是以本次调研</tspan><tspan x="1821" dy="22.5">工作为契机，加强认识，对调研组提出的问题</tspan><tspan x="1821" dy="22.5">逐一整改。</tspan></text></g>
</g>
</svg>
